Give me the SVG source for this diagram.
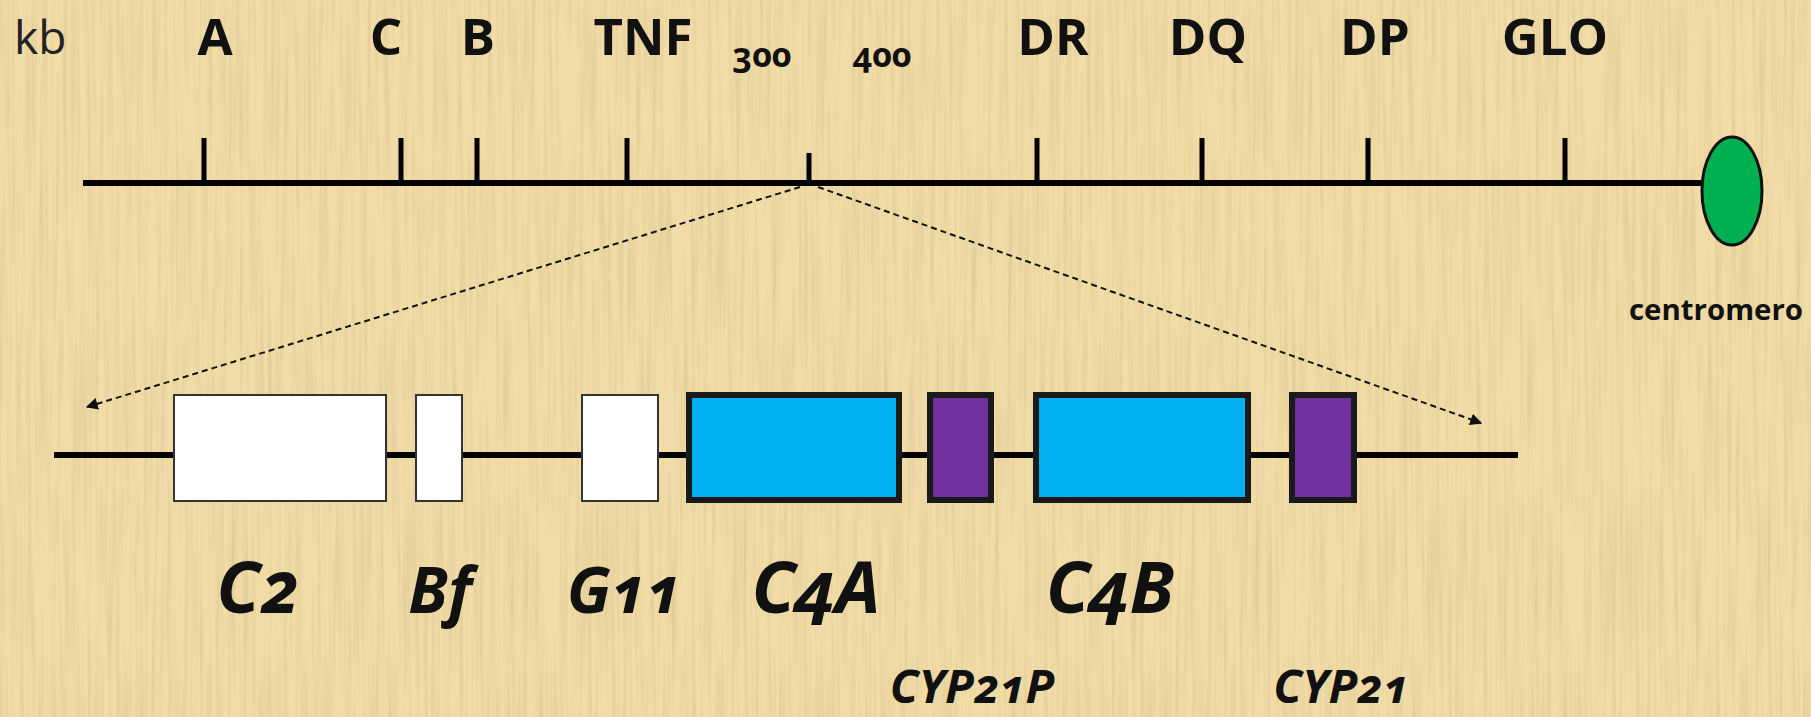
<svg xmlns="http://www.w3.org/2000/svg" width="1811" height="717" viewBox="0 0 1811 717">
  <style>
    .lbl { font-family: "Open Sans", "Noto Sans", sans-serif; font-weight: 700; fill: #111; text-anchor: middle; }
    .top { font-size: 51px; }
    .gene { font-family: "Open Sans", "Noto Sans", sans-serif; font-weight: 700; font-style: italic; fill: #111; text-anchor: middle; font-feature-settings: "onum"; font-variant-numeric: oldstyle-nums; }
    .num { font-family: "Open Sans", "Noto Sans", sans-serif; font-weight: 700; fill: #111; text-anchor: middle; font-feature-settings: "onum"; font-variant-numeric: oldstyle-nums; }
    .axis { stroke: #000; stroke-width: 6; fill: none; }
    .tick { stroke: #000; stroke-width: 5; }
    .white { fill: #fff; stroke: #333; stroke-width: 2; }
    .blue { fill: #00B0F0; stroke: #1a1a1a; stroke-width: 6; }
    .purple { fill: #7030A0; stroke: #1a1a1a; stroke-width: 6; }
    .dash { stroke: #111; stroke-width: 2; stroke-dasharray: 6 4; fill: none; }
  </style>
  <defs>
    <filter id="grain" x="0" y="0" width="100%" height="100%">
      <feTurbulence type="fractalNoise" baseFrequency="0.25 0.006" numOctaves="3" seed="7"/>
      <feColorMatrix type="matrix" values="0 0 0 0 0.55  0 0 0 0 0.40  0 0 0 0 0.18  0.7 0 0 0 -0.28"/>
    </filter>
    <marker id="arr" viewBox="0 0 10 10" refX="9" refY="5" markerWidth="6" markerHeight="6" orient="auto" markerUnits="strokeWidth">
      <path d="M0,0 L10,5 L0,10 z" fill="#111"/>
    </marker>
  </defs>

  <rect x="0" y="0" width="1811" height="717" fill="#F1DCA8"/>
  <rect x="0" y="0" width="1811" height="717" filter="url(#grain)"/>

  <!-- chromosome axis -->
  <g id="axis">
    <line class="axis" x1="83" y1="183" x2="1705" y2="183"/>
    <text x="14" y="54" font-family="Open Sans, Noto Sans, sans-serif" font-size="46" fill="#222">kb</text>
  </g>

  <g id="locus-A"><line class="tick" x1="204" y1="138" x2="204" y2="183"/><text class="lbl top" x="215" y="55">A</text></g>
  <g id="locus-C"><line class="tick" x1="401" y1="138" x2="401" y2="183"/><text class="lbl top" x="386" y="55">C</text></g>
  <g id="locus-B"><line class="tick" x1="477" y1="138" x2="477" y2="183"/><text class="lbl top" x="478" y="55">B</text></g>
  <g id="locus-TNF"><line class="tick" x1="627" y1="138" x2="627" y2="183"/><text class="lbl top" x="643" y="55">TNF</text></g>
  <g id="scale">
    <line class="tick" x1="809" y1="153" x2="809" y2="183"/>
    <text class="num" x="762" y="67" font-size="34">300</text>
    <text class="num" x="882" y="67" font-size="34">400</text>
  </g>
  <g id="locus-DR"><line class="tick" x1="1037" y1="138" x2="1037" y2="183"/><text class="lbl top" x="1053" y="55">DR</text></g>
  <g id="locus-DQ"><line class="tick" x1="1202" y1="138" x2="1202" y2="183"/><text class="lbl top" x="1208" y="55">DQ</text></g>
  <g id="locus-DP"><line class="tick" x1="1368" y1="138" x2="1368" y2="183"/><text class="lbl top" x="1375" y="55">DP</text></g>
  <g id="locus-GLO"><line class="tick" x1="1565" y1="138" x2="1565" y2="183"/><text class="lbl top" x="1555" y="55">GLO</text></g>

  <g id="centromere">
    <ellipse cx="1732" cy="191" rx="30" ry="54" fill="#00B050" stroke="#111" stroke-width="3"/>
    <text class="lbl" x="1716" y="320" font-size="28" textLength="174" lengthAdjust="spacingAndGlyphs">centromero</text>
  </g>

  <!-- expanded region -->
  <g id="region-line">
    <line class="axis" x1="54" y1="455" x2="1518" y2="455"/>
  </g>
  <g id="gene-C2"><rect class="white" x="174" y="395" width="212" height="106"/><text class="gene" x="258" y="613" font-size="72">C2</text></g>
  <g id="gene-Bf"><rect class="white" x="416" y="395" width="46" height="106"/><text class="gene" x="440" y="613" font-size="64">Bf</text></g>
  <g id="gene-G11"><rect class="white" x="582" y="395" width="76" height="106"/><text class="gene" x="624" y="613" font-size="64">G11</text></g>
  <g id="gene-C4A"><rect class="blue" x="689" y="395" width="210" height="105"/><text class="gene" x="816" y="613" font-size="72">C4A</text></g>
  <g id="gene-CYP21P"><rect class="purple" x="930" y="395" width="61" height="105"/><text class="gene" x="972" y="703" font-size="47">CYP21P</text></g>
  <g id="gene-C4B"><rect class="blue" x="1036" y="395" width="212" height="105"/><text class="gene" x="1110" y="613" font-size="72">C4B</text></g>
  <g id="gene-CYP21"><rect class="purple" x="1292" y="395" width="62" height="105"/><text class="gene" x="1341" y="703" font-size="47">CYP21</text></g>

  <g id="connectors">
    <line class="dash" x1="800" y1="187" x2="87" y2="407" marker-end="url(#arr)"/>
    <line class="dash" x1="818" y1="187" x2="1481" y2="423" marker-end="url(#arr)"/>
  </g>
</svg>
